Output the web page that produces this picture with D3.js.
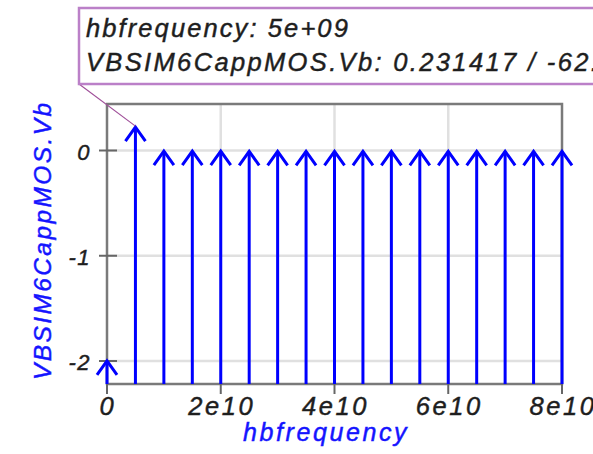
<!DOCTYPE html>
<html><head><meta charset="utf-8">
<script src="https://cdn.jsdelivr.net/npm/d3@7"></script>
<style>html,body{margin:0;padding:0;background:#fff;overflow:hidden}</style>
</head><body><svg id="c" width="593" height="454"></svg>
<script>
const frequencies = [0,5e9,1e10,1.5e10,2e10,2.5e10,3e10,3.5e10,4e10,4.5e10,5e10,5.5e10,6e10,6.5e10,7e10,7.5e10,8e10];
const magnitudes = [-1.99,0.231417,0.004,0.003,0.003,0.002,0.002,0.002,0.002,0.001,0.001,0.001,0.001,0.001,0.001,0.001,0.001];
const xTicks = [0,2e10,4e10,6e10,8e10];
const xTickLabels = ["0","2e10","4e10","6e10","8e10"];
const yTicks = [0,-1,-2];
const yTickLabels = ["0","-1","-2"];
const tipLines = ["hbfrequency: 5e+09","VBSIM6CappMOS.Vb: 0.231417 / -62.4517"];
const tipIndex = 1;

const svg = d3.select("#c");
const L=107,R=562,T=104,B=384;
const x = d3.scaleLinear().domain([0,8e10]).range([L,R]);
const y = d3.scaleLinear().domain([-2.2185,0.4418]).range([B,T]);
const font = "'Liberation Sans',Arial,sans-serif";

// grid
svg.append("g").selectAll("line").data(yTicks).join("line")
  .attr("x1",L).attr("x2",R).attr("y1",d=>y(d)).attr("y2",d=>y(d))
  .attr("stroke","#e0e0e0").attr("stroke-width",2.5);
svg.append("g").selectAll("line").data(xTicks.slice(1,-1)).join("line")
  .attr("y1",T).attr("y2",B).attr("x1",d=>x(d)).attr("x2",d=>x(d))
  .attr("stroke","#e0e0e0").attr("stroke-width",2.5);

// frame
svg.append("rect").attr("x",L).attr("y",T).attr("width",R-L).attr("height",B-T)
  .attr("fill","none").attr("stroke","#7a7a7a").attr("stroke-width",2.5);

// ticks
svg.append("g").selectAll("line").data(yTicks).join("line")
  .attr("x1",L-8).attr("x2",L+10).attr("y1",d=>y(d)).attr("y2",d=>y(d))
  .attr("stroke","#666").attr("stroke-width",2);
svg.append("g").selectAll("line").data(xTicks).join("line")
  .attr("x1",d=>x(d)).attr("x2",d=>x(d)).attr("y1",B).attr("y2",B+10)
  .attr("stroke","#666").attr("stroke-width",2);

function thick(sel,col){ return sel.attr("fill",col).attr("stroke",col).attr("stroke-width",0.45); }

// tick labels
thick(svg.append("g").selectAll("text").data(yTicks).join("text")
  .attr("x",L-16).attr("y",d=>y(d)+9).attr("text-anchor","end")
  .attr("font-family",font).attr("font-style","italic").attr("font-size",22)
  .attr("letter-spacing",1.5).text((d,i)=>yTickLabels[i]),"#1e1e1e");
thick(svg.append("g").selectAll("text").data(xTicks).join("text")
  .attr("x",d=>x(d)+1).attr("y",B+31).attr("text-anchor","middle")
  .attr("font-family",font).attr("font-style","italic").attr("font-size",25.5)
  .attr("letter-spacing",2.6).text((d,i)=>xTickLabels[i]),"#1e1e1e");

// axis titles
thick(svg.append("text").attr("x",243).attr("y",441)
  .attr("font-family",font).attr("font-style","italic").attr("font-size",25)
  .attr("letter-spacing",2.6).text("hbfrequency"),"#1414ff");
thick(svg.append("text").attr("transform","translate(51,380) rotate(-90)")
  .attr("font-family",font).attr("font-style","italic").attr("font-size",24.5)
  .attr("letter-spacing",2.4).text("VBSIM6CappMOS.Vb"),"#1414ff");

// arrows
const g = svg.append("g").attr("stroke","#0000ff").attr("stroke-width",3).attr("fill","none");
frequencies.forEach((f,i)=>{
  const px=x(f), py=y(magnitudes[i]);
  g.append("line").attr("x1",px).attr("x2",px).attr("y1",B).attr("y2",py+1);
  g.append("path").attr("d",`M${px-10},${py+15}L${px},${py+1}L${px+10},${py+15}`)
    .attr("stroke-linejoin","miter");
});

// tooltip
const tx = x(frequencies[tipIndex]), ty = y(magnitudes[tipIndex]);
svg.append("line").attr("x1",79).attr("y1",84).attr("x2",tx).attr("y2",ty)
  .attr("stroke","#a0509a").attr("stroke-width",1.2);
svg.append("rect").attr("x",79).attr("y",8).attr("width",600).attr("height",76)
  .attr("fill","#fff").attr("stroke","#bb80c8").attr("stroke-width",2.5);
thick(svg.append("g").selectAll("text").data(tipLines).join("text")
  .attr("x",86).attr("y",(d,i)=>37+i*33.5)
  .attr("font-family",font).attr("font-style","italic").attr("font-size",25.5)
  .attr("letter-spacing",(d,i)=>i?2.35:2.1).text(d=>d),"#1e1e1e");
</script></body></html>
